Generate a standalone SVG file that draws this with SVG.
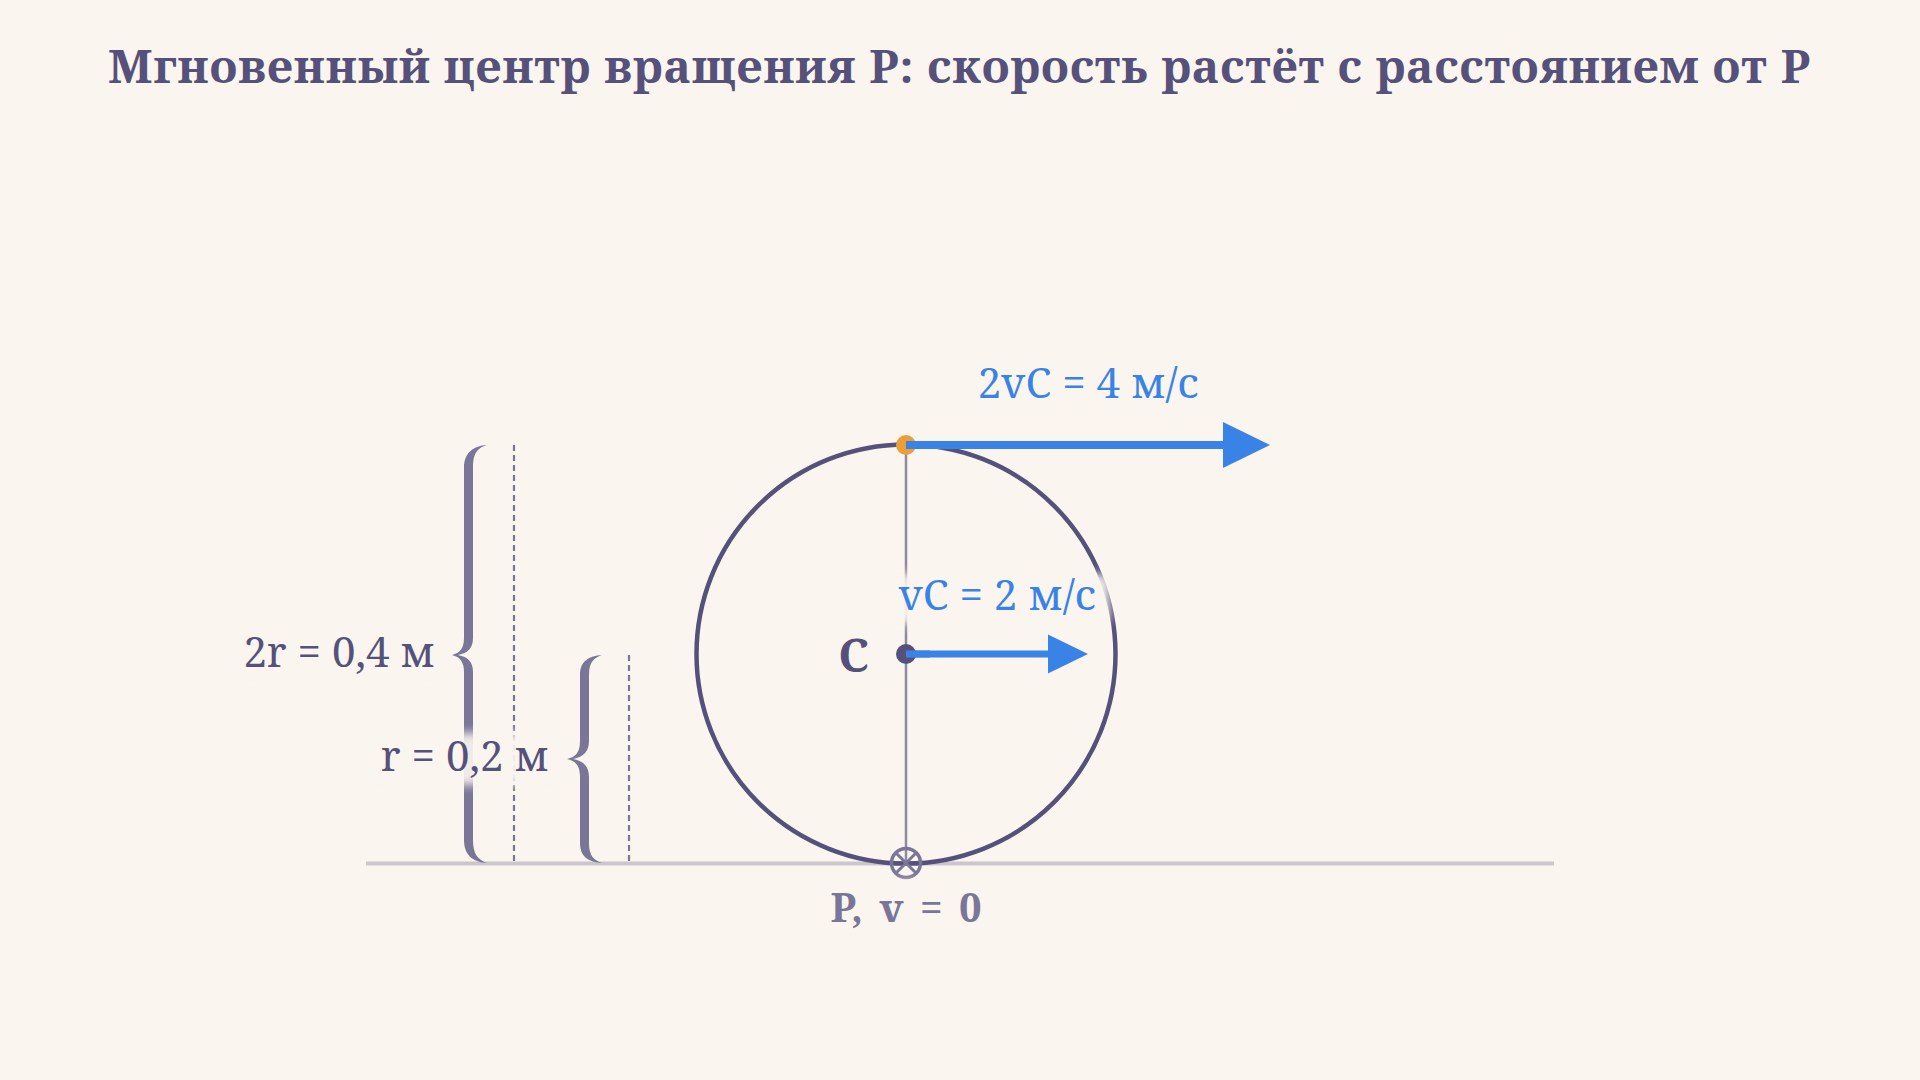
<svg xmlns="http://www.w3.org/2000/svg" width="1920" height="1080" viewBox="0 0 1920 1080">
  <defs>
    <style>
      .title { font-family: "Noto Serif", "DejaVu Serif", serif; font-weight: bold; font-size: 46px; fill: #56517b; }
      .lbl { font-family: "Noto Serif", "DejaVu Serif", serif; font-size: 42px; }
      .lbl-c { font-family: "Noto Serif", "DejaVu Serif", serif; font-size: 46px; font-weight: bold; }
      .lbl-p { font-family: "Noto Serif", "DejaVu Serif", serif; font-size: 40px; font-weight: bold; word-spacing: 6px; }
      .dark { fill: #56517b; }
      .muted { fill: #7a7698; }
      .blue { fill: #3a83e6; }
      .halo { fill: #faf5ef; opacity: 0.92; filter: url(#blur); }
      .dash { stroke: #7a7698; stroke-width: 2.2; stroke-dasharray: 6 4; fill: none; }
      .brace { fill: #7a7698; }
      .vel { stroke: #3a83e6; fill: none; }
    </style>
    <filter id="blur" x="-20%" y="-40%" width="140%" height="180%">
      <feGaussianBlur stdDeviation="5"/>
    </filter>
  </defs>

  <rect x="0" y="0" width="1920" height="1080" fill="#faf5ef"/>

  <text class="title" x="108" y="83" textLength="1702" lengthAdjust="spacing">Мгновенный центр вращения P: скорость растёт с расстоянием от P</text>

  <g id="ground">
    <line x1="366" y1="863.5" x2="1554" y2="863.5" stroke="#cbc6cc" stroke-width="4"/>
  </g>

  <g id="wheel">
    <circle cx="906" cy="654" r="209.5" fill="none" stroke="#56517b" stroke-width="4.5"/>
    <line x1="906" y1="445" x2="906" y2="863" stroke="#8e8aa4" stroke-width="2.5"/>
  </g>

  <g id="brace-2r">
    <path class="brace" d="M487,445 C474,446 464,452 464,468 L464,638 C464,648 460,653 452,655 C460,657 464,662 464,672 L464,840 C464,856 474,862 487,863 C478,860 473,854 473,840 L473,672 C473,662 468,657 458,655 C468,653 473,648 473,638 L473,468 C473,452 478,448 487,445 Z"/>
    <line class="dash" x1="514" y1="445" x2="514" y2="863"/>
  </g>

  <g id="brace-r">
    <path class="brace" d="M602,655 C589,656 580,661 580,675 L580,741 C580,752 576,757 567,759 C576,761 580,766 580,777 L580,843 C580,857 589,862 602,863 C593,860 589,855 589,843 L589,777 C589,767 584,761 573,759 C584,757 589,751 589,741 L589,675 C589,663 593,658 602,655 Z"/>
    <line class="dash" x1="629" y1="655" x2="629" y2="863"/>
  </g>

  <g id="connectors">
    <g id="v-top">
      <line class="vel" x1="906" y1="445" x2="1224" y2="445" stroke-width="8"/>
      <polygon class="blue" points="1223,422 1270,445 1223,468"/>
    </g>
    <g id="v-center">
      <line class="vel" x1="906" y1="654" x2="1049" y2="654" stroke-width="7"/>
      <polygon class="blue" points="1048,634.5 1088,654 1048,673.5"/>
    </g>
  </g>

  <g id="point-top">
    <circle cx="906" cy="445" r="10" fill="#eb9f3a"/>
    <line class="vel" x1="906" y1="445" x2="930" y2="445" stroke-width="8"/>
  </g>

  <g id="point-C">
    <circle cx="906" cy="654" r="10" fill="#56517b"/>
    <line class="vel" x1="906" y1="654" x2="930" y2="654" stroke-width="7"/>
    <text class="lbl-c dark" x="869" y="672" text-anchor="end">C</text>
  </g>

  <g id="point-P">
    <circle cx="906" cy="863" r="14.5" fill="none" stroke="#7a7698" stroke-width="3.5"/>
    <line x1="896" y1="853" x2="916" y2="873" stroke="#7a7698" stroke-width="3"/>
    <line x1="916" y1="853" x2="896" y2="873" stroke="#7a7698" stroke-width="3"/>
  </g>

  <g id="labels">
    <rect class="halo" x="965" y="362" width="248" height="50" rx="8"/>
    <text class="lbl blue" x="1088" y="398" text-anchor="middle">2vC = 4 м/с</text>

    <rect class="halo" x="886" y="574" width="224" height="50" rx="8"/>
    <text class="lbl blue" x="997" y="610" text-anchor="middle">vC = 2 м/с</text>

    <rect class="halo" x="238" y="628" width="206" height="52" rx="8"/>
    <text class="lbl dark" x="435" y="667" text-anchor="end">2r = 0,4 м</text>

    <rect class="halo" x="370" y="733" width="190" height="52" rx="8"/>
    <text class="lbl dark" x="549" y="771" text-anchor="end">r = 0,2 м</text>

    <rect class="halo" x="820" y="882" width="172" height="52" rx="8"/>
    <text class="lbl-p muted" x="906" y="922" text-anchor="middle">P, v = 0</text>
  </g>
</svg>
